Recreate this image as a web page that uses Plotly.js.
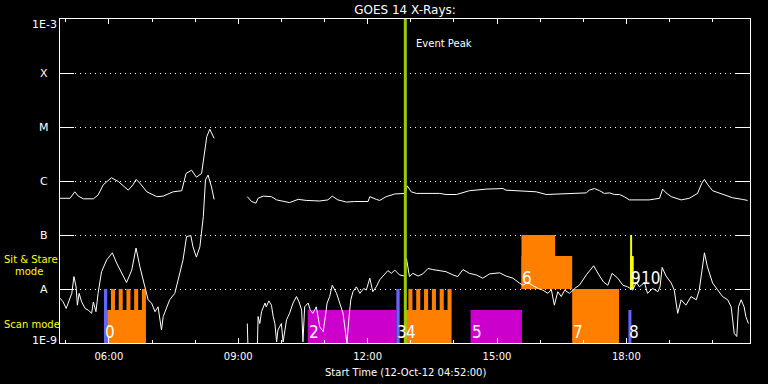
<!DOCTYPE html>
<html><head><meta charset="utf-8">
<script src="https://cdn.plot.ly/plotly-3.0.1.min.js"></script>
<style>html,body{margin:0;padding:0;background:#000;} #chart{width:768px;height:384px;}</style>
</head><body><div id="chart"></div>
<script>
// ---- GOES 14 X-ray flux, 12-Oct-12, time in decimal hours UT, values = log10(W/m^2) ----
const longTime1 = [4.87,5.10,5.21,5.29,5.41,5.64,5.75,5.87,6.06,6.22,6.45,6.56,6.63,6.72,6.88,7.11,7.26,7.49,7.69,7.79,7.92,8.03,8.15,8.21,8.27,8.34,8.44];
const longLog1  = [-6.32,-6.32,-6.20,-6.28,-6.33,-6.33,-6.26,-6.07,-5.94,-6.01,-6.17,-6.07,-5.97,-6.04,-6.20,-6.29,-6.28,-6.20,-6.18,-5.86,-5.80,-5.93,-5.86,-5.49,-5.18,-5.04,-5.21];
const longTime2 = [9.21,9.31,9.41,9.46,9.58,9.77,9.89,10.04,10.19,10.39,10.58,10.89,11.08,11.18,11.31,11.51,11.70,12.01,12.05,12.20,12.28,12.43,12.63,12.87,12.92,13.01,13.13,13.67,13.82,14.06,14.36,14.75,15.14,15.21,15.60,15.91,16.14,16.68,17.07,17.14,17.26,17.38,17.49,17.61,17.72,17.84,17.95,18.07,18.53,18.77,18.84,18.92,19.04,19.27,19.46,19.65,19.75,19.81,19.88,20.00,20.23,20.46,20.69,20.81];
const longLog2  = [-6.29,-6.38,-6.41,-6.32,-6.28,-6.29,-6.35,-6.38,-6.40,-6.34,-6.36,-6.37,-6.35,-6.28,-6.35,-6.39,-6.38,-6.38,-6.29,-6.34,-6.36,-6.29,-6.24,-6.23,-6.09,-6.20,-6.23,-6.23,-6.25,-6.25,-6.18,-6.15,-6.14,-6.17,-6.19,-6.20,-6.25,-6.23,-6.22,-6.17,-6.14,-6.18,-6.23,-6.22,-6.25,-6.25,-6.29,-6.35,-6.35,-6.32,-6.15,-6.22,-6.29,-6.35,-6.32,-6.23,-6.04,-5.97,-6.06,-6.18,-6.25,-6.31,-6.34,-6.36];

const shortTime1 = [4.87,4.94,5.01,5.06,5.14,5.19,5.24,5.27,5.31,5.37,5.45,5.52,5.60,5.64,5.70,5.75,5.83,5.95,6.08,6.18,6.30,6.41,6.53,6.63,6.72,6.84,6.91,6.99,7.07,7.14,7.22,7.26,7.41,7.53,7.61,7.72,7.80,7.90,7.95,8.03,8.11,8.19,8.24,8.30,8.38,8.44];
const shortLog1  = [-8.17,-8.24,-8.36,-8.25,-8.08,-7.77,-7.96,-8.30,-8.08,-8.24,-8.36,-8.39,-8.45,-8.24,-8.42,-8.08,-7.68,-7.46,-7.33,-7.52,-7.71,-7.88,-7.65,-7.24,-7.59,-7.96,-8.20,-8.26,-8.42,-8.33,-8.76,-8.51,-8.20,-8.08,-7.83,-7.46,-7.03,-7.01,-7.22,-7.41,-7.22,-6.66,-5.98,-5.89,-6.11,-6.34];
const shortTime2 = [9.21,9.23,9.44,9.46,9.50,9.54,9.62,9.65,9.71,9.77,9.81,9.85,9.89,9.92,10.00,10.04,10.12,10.19,10.27,10.35,10.41,10.47,10.50,10.54,10.62,10.67,10.73,10.81,10.89,10.97,11.03,11.06,11.12,11.18,11.28,11.35,11.43,11.49,11.52,11.57,11.61,11.66,11.74,11.82,11.91,11.97,12.05,12.12,12.20,12.28,12.39,12.47,12.55,12.63,12.74,12.86,12.90,12.93,12.97,13.05,13.17,13.28,13.40,13.51,13.67,13.82,13.98,14.09,14.21,14.36,14.52,14.67,14.83,15.06,15.21,15.37,15.52,15.60,15.71,15.83,15.95,16.06,16.18,16.26,16.33,16.41,16.49,16.57,16.68,16.80,16.91,17.07,17.24,17.38,17.47,17.57,17.67,17.80,17.92,18.03,18.15,18.23,18.30,18.42,18.49,18.61,18.73,18.78,18.83,18.92,19.04,19.11,19.19,19.27,19.38,19.50,19.62,19.69,19.75,19.81,19.88,20.00,20.12,20.23,20.35,20.43,20.50,20.56,20.60,20.66,20.73,20.77,20.83];
const shortLog2  = [-8.64,-9.20,-9.20,-8.51,-8.64,-8.42,-8.26,-8.33,-8.22,-8.30,-8.51,-8.64,-8.98,-8.76,-8.64,-8.98,-8.57,-8.45,-8.26,-8.14,-8.24,-8.39,-8.98,-8.33,-8.26,-8.39,-8.45,-8.33,-8.70,-8.79,-8.45,-8.26,-8.14,-7.93,-8.08,-8.26,-8.45,-8.82,-9.00,-8.51,-8.20,-8.05,-7.96,-8.08,-7.99,-8.02,-7.80,-8.05,-7.96,-7.83,-7.74,-7.66,-7.71,-7.65,-7.74,-7.76,-7.43,-7.59,-7.77,-7.71,-7.76,-7.72,-7.62,-7.64,-7.66,-7.68,-7.74,-7.77,-7.64,-7.71,-7.74,-7.80,-7.72,-7.70,-7.76,-7.80,-7.89,-7.93,-7.88,-7.93,-7.99,-8.02,-8.08,-8.01,-8.30,-8.05,-8.14,-8.02,-8.08,-7.99,-7.93,-7.74,-7.57,-7.76,-7.87,-7.93,-7.71,-7.80,-7.93,-7.96,-8.02,-7.87,-7.96,-7.88,-8.08,-7.99,-8.05,-7.96,-7.60,-7.76,-7.89,-8.02,-8.45,-8.20,-8.30,-8.14,-8.20,-8.02,-7.65,-7.33,-7.59,-7.89,-8.02,-8.14,-8.20,-8.33,-8.82,-8.88,-8.33,-8.20,-8.33,-8.51,-8.64];

// ---- IRIS observations (decimal hours) ----
const obsLabel = ['0','','2','3','4','5','6','','7','8','9','10'];
const obsMode  = ['scan','scan','scan','scan','scan','scan','sit','sit','scan','scan','sit','sit'];
const obsKind  = ['blue','orange','magenta','blue','orange','magenta','orange','orange','orange','blue','yellow','yellow'];
const obsStart = [5.886,5.962,10.611,12.666,12.858,14.388,15.568,15.568,16.743,18.047,18.087,18.090];
const obsEnd   = [5.962,6.859,12.666,12.743,13.947,15.580,16.349,16.743,17.831,18.117,18.133,18.170];
const obsFill  = [1,0.61,0.61,1,0.61,0.61,1,0.61,1,0.61,1,0.61];
const obsSteps = [0,5,0,0,6,0,0,0,0,0,0,0];
const eventPeak = 12.874;

const classNames = ['1E-9','A','B','C','M','X','1E-3'];
const classLogs  = [-9,-8,-7,-6,-5,-4,-3];
const timeTicks  = [6,9,12,15,18];
const timeLabels = ['06:00','09:00','12:00','15:00','18:00'];

const colors = {blue:'#6464ff', orange:'#ff8000', magenta:'#cc00cc', yellow:'#ffff00'};
const rowBase = {scan:-9, sit:-8};
const FONT = 'DejaVu Sans, sans-serif';
const NUMFONT = 'Liberation Sans Narrow, DejaVu Sans Condensed, sans-serif';

function joinSeg(t1,v1,t2,v2){
  return {x:[...t1,null,...t2], y:[...v1,null,...v2]};
}
const L = joinSeg(longTime1,longLog1,longTime2,longLog2);
const S = joinSeg(shortTime1,shortLog1,shortTime2,shortLog2);

const traces = [
  {x:L.x, y:L.y, mode:'lines', line:{color:'#fff', width:1}, hoverinfo:'skip', connectgaps:false},
  {x:S.x, y:S.y, mode:'lines', line:{color:'#fff', width:1}, hoverinfo:'skip', connectgaps:false}
];

const shapes = [];
const annotations = [];
let prevLabelStart = {scan:-99, sit:-99};
for(let i=0;i<obsStart.length;i++){
  const m = obsMode[i];
  const b = rowBase[m];
  const col = colors[obsKind[i]];
  shapes.push({type:'rect', xref:'x', yref:'y', x0:obsStart[i], x1:obsEnd[i], y0:b, y1:b+obsFill[i],
    fillcolor:col, line:{width:0}, layer:'between'});
  if(obsSteps[i]>0){
    const p = (obsEnd[i]-obsStart[i])/obsSteps[i];
    for(let k=0;k<obsSteps[i];k++){
      shapes.push({type:'rect', xref:'x', yref:'y', x0:obsStart[i]+k*p+0.48*p, x1:obsStart[i]+(k+1)*p,
        y0:b+obsFill[i]-0.01, y1:b+1, fillcolor:col, line:{width:0}, layer:'between'});
    }
  }
  if(obsLabel[i]){
    // labels that would sit on top of the previous one are nudged right by one glyph
    const crowd = (obsStart[i]-prevLabelStart[m]) < 0.1 ? 10 : 0;
    annotations.push({xref:'x', yref:'y', x:obsStart[i], y:b+0.2, xanchor:'left', yanchor:'middle', xshift:crowd,
      text:obsLabel[i], showarrow:false, borderpad:0, font:{color:'#fff', size:17, family:NUMFONT}});
    prevLabelStart[m] = obsStart[i];
  }
}
shapes.push({type:'line', xref:'x', yref:'paper', x0:eventPeak, x1:eventPeak, y0:0, y1:1,
  line:{color:'#99cc00', width:3}, layer:'above'});

annotations.push({xref:'x', yref:'paper', x:eventPeak, y:1-(43-19)/324, xanchor:'left', yanchor:'middle', xshift:9,
  text:'Event Peak', showarrow:false, font:{color:'#fff', size:10, family:FONT}});

for(let i=0;i<classNames.length;i++){
  let ys = 0;
  if(i===classNames.length-1) ys = -5;
  if(i===0) ys = 3;
  annotations.push({xref:'paper', yref:'y', x:(44-60)/690, y:classLogs[i], yshift:ys, xanchor:'center', yanchor:'middle',
    text:classNames[i], showarrow:false, font:{color:'#fff', size:11, family:FONT}});
}
annotations.push({xref:'paper', yref:'paper', x:(2-60)/690, y:(343-259)/324, xanchor:'left', yanchor:'middle',
  text:'Sit & Stare', showarrow:false, font:{color:'#ffff00', size:10, family:FONT}});
annotations.push({xref:'paper', yref:'paper', x:(13-60)/690, y:(343-271)/324, xanchor:'left', yanchor:'middle',
  text:'mode', showarrow:false, font:{color:'#ffff00', size:10, family:FONT}});
annotations.push({xref:'paper', yref:'paper', x:(2-60)/690, y:(343-324)/324, xanchor:'left', yanchor:'middle',
  text:'Scan mode', showarrow:false, font:{color:'#ffff00', size:10, family:FONT}});
annotations.push({xref:'paper', yref:'paper', x:0.5, y:-(372-343)/324, xanchor:'center', yanchor:'middle',
  text:'Start Time (12-Oct-12 04:52:00)', showarrow:false, font:{color:'#fff', size:10, family:FONT}});

const layout = {
  width:768, height:384,
  margin:{l:60, r:18, t:19, b:41, pad:0},
  paper_bgcolor:'#000', plot_bgcolor:'#000',
  showlegend:false,
  title:{text:'GOES 14 X-Rays:', font:{color:'#fff', size:12, family:FONT}, x:0.5, xref:'paper', y:1-9.5/384, yref:'container', yanchor:'middle'},
  xaxis:{range:[4.8667,20.8667], tickmode:'array', tickvals:timeTicks, ticktext:timeLabels,
    ticks:'inside', ticklen:5, tickwidth:1, tickcolor:'#fff', showline:true, linecolor:'#fff', linewidth:1,
    mirror:'ticks', showgrid:false, zeroline:false, tickfont:{color:'#fff', size:10, family:FONT},
    ticklabelstandoff:4,
    minor:{tickmode:'linear', tick0:0, dtick:1, ticks:'inside', ticklen:3, tickcolor:'#fff', showgrid:false}},
  yaxis:{range:[-9,-3], tickmode:'array', tickvals:classLogs, showticklabels:false,
    ticks:'inside', ticklen:14, tickwidth:1, tickcolor:'#fff', showline:true, linecolor:'#fff', linewidth:1,
    mirror:'ticks', showgrid:true, gridcolor:'#fff', griddash:'1px,4px', gridwidth:1, zeroline:false},
  shapes:shapes, annotations:annotations
};
Plotly.newPlot('chart', traces, layout, {staticPlot:true, displayModeBar:false});
</script></body></html>
